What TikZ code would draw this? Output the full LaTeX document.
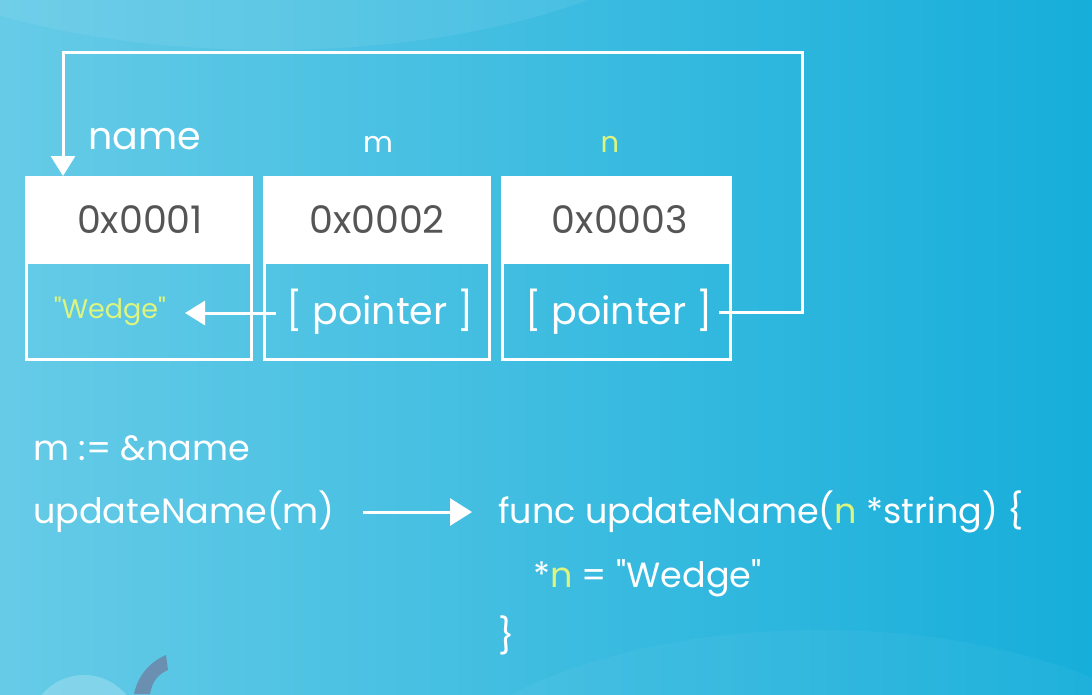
\documentclass[tikz,border=0pt]{standalone}
\usepackage{fontspec}
\setmainfont{Poppins}[Ligatures=TeXOff]
\usetikzlibrary{arrows.meta}
\definecolor{bgL}{HTML}{66CBE7}
\definecolor{bgR}{HTML}{16AEDA}
\definecolor{lime}{HTML}{DDF57E}
\definecolor{hexgray}{HTML}{555555}
\definecolor{hook}{HTML}{6A8FB0}
\tikzset{
  hdr/.style={fill=white, minimum width=228pt, minimum height=86pt, inner sep=0pt},
  cell/.style={draw=white, line width=3pt, minimum width=225pt, minimum height=97pt, inner sep=0pt},
  hex/.style={text=hexgray, font=\fontsize{38}{38}\selectfont, inner sep=0pt},
  ptr/.style={text=white, font=\fontsize{38}{38}\selectfont, inner sep=0pt},
  lbl/.style={text=white, font=\fontsize{29}{29}\selectfont, inner sep=0pt, anchor=base},
  code/.style={text=white, font=\fontsize{35}{35}\selectfont, inner sep=0pt, anchor=base west},
  wire/.style={white, line width=3pt},
  tip/.style={-{Triangle[width=24pt,length=20pt]}},
  bigtip/.style={-{Triangle[width=27pt,length=22pt]}},
}
\begin{document}
\begin{tikzpicture}[x=1pt,y=-1pt]
% background
\shade[left color=bgL, right color=bgR] (0,0) rectangle (1092,694);
\useasboundingbox (0,0) rectangle (1092,694);
\fill[white, opacity=0.07] (270,-140) ellipse [x radius=470pt, y radius=190pt];
\fill[white, opacity=0.04] (820,830) ellipse [x radius=420pt, y radius=200pt];
\fill[white, opacity=0.22] (84,730) circle [radius=55pt];
\fill[hook] (166,655) .. controls (150,662) and (138,675) .. (134,694) -- (150,694) .. controls (152,682) and (158,674) .. (168,670) -- cycle;

% boxes
\node[hdr] (h1) at (139,219) {};
\node[hdr] (h2) at (377,219) {};
\node[hdr, minimum width=231pt] (h3) at (616.5,219) {};
\node[cell] (c1) at (139,311) {};
\node[cell] (c2) at (377,311) {};
\node[cell, minimum width=228pt] (c3) at (616.5,311) {};

\node[hex, anchor=base] (x1) at (140,233) {0x0001};
\node[hex, anchor=base] (x2) at (377,233) {0x0002};
\node[hex, anchor=base] (x3) at (620,233) {0x0003};

% labels
\node[lbl, font=\fontsize{38}{38}\selectfont] (lname) at (145,149) {name};
\node[lbl] (lm) at (378,152) {m};
\node[lbl, text=lime] (ln) at (610,152) {n};

% cell contents
\node[text=lime, font=\fontsize{27}{27}\selectfont, inner sep=0pt, anchor=base] (wedge) at (110,318) {"Wedge"};
\node[ptr, anchor=base] (pm) at (380,324) {[ pointer ]};
\node[ptr, anchor=base] (pn) at (619,324) {[ pointer ]};

% arrows
\coordinate (wt) at (185,313);
\draw[wire, tip] ([xshift=-10pt]pm.west |- wt) -- (wt);
\coordinate (r1) at (802,312);
\coordinate (r2) at (802,52);
\coordinate (r3) at (63,52);
\coordinate (r4) at (63,176);
\draw[wire, tip, line join=miter] ([xshift=6pt]pn.east |- r1) -- (r1) -- (r2) -- (r3) -- (r4);

% code
\node[code] (l1) at (33,460) {m := \&name};
\node[code] (l2) at (33,523) {updateName(m)};
\node[code] (f1) at (498,523) {func updateName(\textcolor{lime}{n} *string) \{};
\node[code] (f2) at (533,587) {*\textcolor{lime}{n} = "Wedge"};
\node[code] (f3) at (498,648) {\}};
\coordinate (ca) at (363,512);
\coordinate (cb) at (472,512);
\draw[wire, bigtip] (ca) -- (cb);
\end{tikzpicture}
\end{document}
